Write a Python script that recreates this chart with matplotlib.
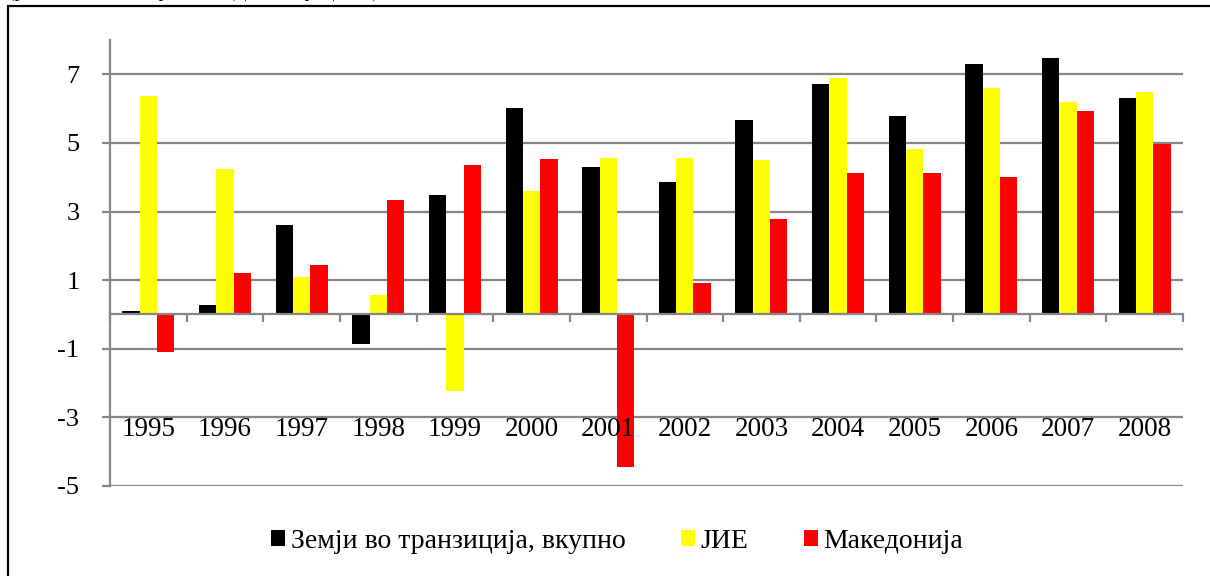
"""
Real growth by year: transition countries, SEE and Macedonia (1995-2008).
Saves the bar chart to out.png.
"""

import matplotlib.pyplot as plt
from matplotlib.patches import Rectangle

# data
years = ["1995", "1996", "1997", "1998", "1999", "2000", "2001",
         "2002", "2003", "2004", "2005", "2006", "2007", "2008"]
transition_total = [0.11, 0.28, 2.61, -0.85, 3.48, 6.03, 4.29,
                    3.87, 5.68, 6.72, 5.78, 7.31, 7.47, 6.32]
see = [6.37, 4.24, 1.10, 0.58, -2.24, 3.60, 4.57,
       4.56, 4.51, 6.89, 4.81, 6.60, 6.19, 6.48]
macedonia = [-1.10, 1.21, 1.44, 3.35, 4.35, 4.53, -4.46,
             0.92, 2.78, 4.11, 4.11, 4.00, 5.92, 4.97]
series_names = ["Земји во транзиција, вкупно", "ЈИЕ", "Македонија"]
series_colors = ["#000000", "#FFFF00", "#FF0000"]
y_ticks = [-5, -3, -1, 1, 3, 5, 7]
header = "(реална стапка на раст на БДП, во проценти)"

plt.rcParams['font.family'] = ['Liberation Serif', 'DejaVu Serif']

W, H = 1210, 576
fig = plt.figure(figsize=(W / 100, H / 100), dpi=100)

# outer chart frame (cut off at right and bottom in the original)
fig.patches.append(Rectangle((8 / W, -0.1), 1.2, 1 - 6 / H + 0.1,
                             transform=fig.transFigure, fill=False,
                             edgecolor='black', linewidth=1.6))
# header line, mostly above the picture as in the original
fig.text(8 / W, 1 - 1 / H, header, fontsize=14, va='bottom', ha='left')

left, right, top, bottom = 110, 1183, 40, 486
ax = fig.add_axes([left / W, 1 - bottom / H, (right - left) / W, (bottom - top) / H])

grey = "#868686"
n = len(years)
width = 0.226
xs = list(range(n))
for k, (vals, name, col) in enumerate(zip([transition_total, see, macedonia],
                                          series_names, series_colors)):
    ax.bar([x + (k - 1) * width for x in xs], vals, width=width, color=col,
           label=name, zorder=3)

ax.set_xlim(-0.5, n - 0.5)
ax.set_ylim(-5, 8)
ax.set_yticks(y_ticks)
ax.set_yticklabels([str(t) for t in y_ticks])
ax.yaxis.grid(True, color=grey, linewidth=1.6, zorder=0)
ax.set_axisbelow(True)

for side in ['top', 'right']:
    ax.spines[side].set_visible(False)
ax.spines['left'].set_color(grey)
ax.spines['left'].set_linewidth(1.6)
ax.spines['bottom'].set_position(('data', 0))
ax.spines['bottom'].set_color(grey)
ax.spines['bottom'].set_linewidth(1.6)
ax.spines['bottom'].set_zorder(4)

ax.set_xticks([x - 0.5 for x in range(n + 1)])
ax.set_xticklabels([])
ax.tick_params(axis='x', direction='out', length=6, width=1.6, color=grey)
ax.tick_params(axis='y', direction='out', length=6, width=1.6, color=grey,
               labelsize=19, pad=16)

for x, yr in zip(xs, years):
    ax.text(x, -3.0, yr, ha='center', va='top', fontsize=19.5)

fig.legend(loc='center', bbox_to_anchor=(617 / W, 1 - 541 / H), ncol=3,
           frameon=False, fontsize=20, handlelength=0.5, handleheight=0.5,
           handletextpad=0.2, columnspacing=2.0)

fig.savefig("out.png", dpi=100)
plt.close(fig)
